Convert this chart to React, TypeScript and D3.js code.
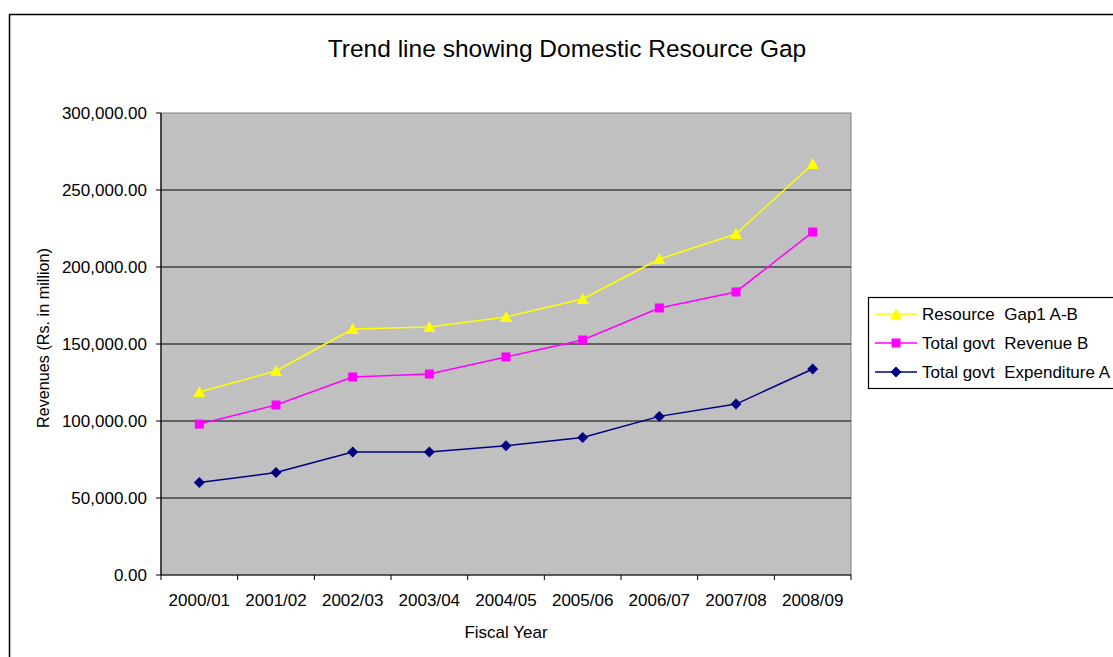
import React from "react";
import * as d3 from "d3";

const categories = ["2000/01", "2001/02", "2002/03", "2003/04", "2004/05", "2005/06", "2006/07", "2007/08", "2008/09"];
const gapValues = [118800, 132500, 159700, 161000, 167500, 179200, 205200, 221400, 266900];
const revenueValues = [98000, 110400, 128600, 130500, 141600, 152600, 173400, 183800, 222700];
const expenditureValues = [60000, 66500, 79900, 79900, 84000, 89300, 103000, 111000, 133800];
const yTicks = [0, 50000, 100000, 150000, 200000, 250000, 300000];
const seriesNames = ["Resource  Gap1 A-B", "Total govt  Revenue B", "Total govt  Expenditure A"];

const W = 1113, H = 657;
const plot = { left: 161, right: 851, top: 113, bottom: 575 };
const font = "Liberation Sans, Arial, sans-serif";

function Marker({ kind, x, y, color }: { kind: string; x: number; y: number; color: string }) {
  if (kind === "triangle") {
    const s = 6;
    return <path d={`M${x},${y - s} L${x + s},${y + s - 1} L${x - s},${y + s - 1} Z`} fill={color} />;
  }
  if (kind === "square") {
    return <rect x={x - 4.5} y={y - 4.5} width={9} height={9} fill={color} />;
  }
  const s = 5.5;
  return <path d={`M${x},${y - s} L${x + s},${y} L${x},${y + s} L${x - s},${y} Z`} fill={color} />;
}

export default function App() {
  const x = d3.scaleBand<string>().domain(categories).range([plot.left, plot.right]);
  const y = d3.scaleLinear().domain([0, 300000]).range([plot.bottom, plot.top]);
  const fmt = d3.format(",.2f");
  const series = [
    { name: seriesNames[0], values: gapValues, color: "#FFFF00", kind: "triangle" },
    { name: seriesNames[1], values: revenueValues, color: "#FF00FF", kind: "square" },
    { name: seriesNames[2], values: expenditureValues, color: "#000080", kind: "diamond" },
  ];
  const line = d3.line<number>()
    .x((_, i) => (x(categories[i]) as number) + x.bandwidth() / 2)
    .y((v) => y(v));
  const boundaries = categories.map((c) => x(c) as number).concat([plot.right]);

  return (
    <svg width={W} height={H} style={{ position: "absolute", left: 0, top: 0, fontFamily: font }}>
      <rect x={0} y={0} width={W} height={H} fill="#fff" />
      <rect x={9.5} y={14.5} width={W + 20} height={H + 20} fill="none" stroke="#000" strokeWidth={1.5} />
      <text x={567} y={57} textAnchor="middle" fontSize={24.5} fill="#000">Trend line showing Domestic Resource Gap</text>
      <rect x={plot.left} y={plot.top} width={plot.right - plot.left} height={plot.bottom - plot.top} fill="#C0C0C0" stroke="#808080" strokeWidth={1} />
      {yTicks.map((t) => (
        <g key={t}>
          {t > 0 && t < 300000 && <line x1={plot.left} x2={plot.right} y1={y(t)} y2={y(t)} stroke="#000" strokeWidth={1} />}
          <line x1={plot.left - 5} x2={plot.left} y1={y(t)} y2={y(t)} stroke="#000" />
          <text x={147} y={y(t) + 6} textAnchor="end" fontSize={17} fill="#000">{fmt(t)}</text>
        </g>
      ))}
      <line x1={plot.left} x2={plot.left} y1={plot.top} y2={plot.bottom} stroke="#000" strokeWidth={1.2} />
      <line x1={plot.left} x2={plot.right} y1={plot.bottom} y2={plot.bottom} stroke="#000" strokeWidth={1.2} />
      {boundaries.map((b, i) => (
        <line key={i} x1={b} x2={b} y1={plot.bottom} y2={plot.bottom + 5} stroke="#000" />
      ))}
      {categories.map((c) => (
        <text key={c} x={(x(c) as number) + x.bandwidth() / 2} y={606} textAnchor="middle" fontSize={17} fill="#000">{c}</text>
      ))}
      <text x={506} y={638} textAnchor="middle" fontSize={17} fill="#000">Fiscal Year</text>
      <text transform={`translate(49,338) rotate(-90)`} textAnchor="middle" fontSize={16.2} fill="#000">Revenues (Rs. in million)</text>
      {series.map((s) => (
        <g key={s.name}>
          <path d={line(s.values) as string} fill="none" stroke={s.color} strokeWidth={1.5} />
          {s.values.map((v, i) => (
            <Marker key={i} kind={s.kind} x={(x(categories[i]) as number) + x.bandwidth() / 2} y={y(v)} color={s.color} />
          ))}
        </g>
      ))}
      <rect x={868.5} y={297.5} width={260} height={91} fill="#fff" stroke="#000" strokeWidth={1.2} />
      {series.map((s, i) => {
        const ly = 314 + i * 29;
        return (
          <g key={s.name}>
            <line x1={875} x2={917} y1={ly} y2={ly} stroke={s.color} strokeWidth={1.5} />
            <Marker kind={s.kind} x={896} y={ly} color={s.color} />
            <text x={922} y={ly + 6} fontSize={17} fill="#000" style={{ whiteSpace: "pre" }}>{s.name}</text>
          </g>
        );
      })}
    </svg>
  );
}
